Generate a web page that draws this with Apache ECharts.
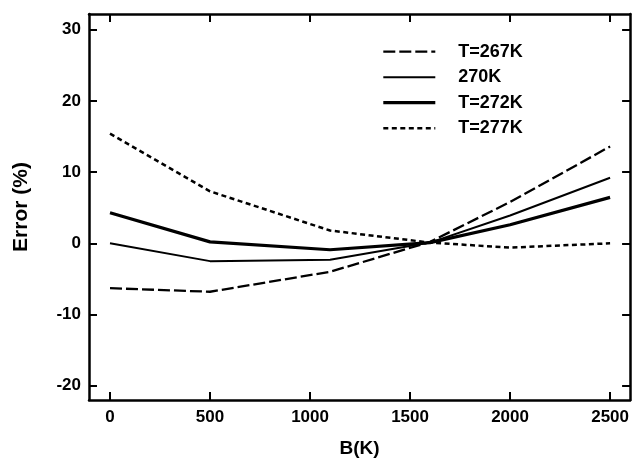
<!DOCTYPE html>
<html>
<head>
<meta charset="utf-8">
<script src="https://cdn.jsdelivr.net/npm/echarts@6/dist/echarts.min.js"></script>
<style>html,body{margin:0;padding:0;background:#fff}#c{width:632px;height:468px}</style>
</head>
<body>
<div id="c"></div>
<script>
var seriesNames = ['T=267K', '270K', 'T=272K', 'T=277K'];
var bValues = [0, 500, 1100, 1600, 2000, 2500];
var err267 = [-6.3, -6.8, -4.0, 0.2, 5.8, 13.6];
var err270 = [0.0, -2.5, -2.3, 0.1, 3.9, 9.2];
var err272 = [4.3, 0.2, -0.9, 0.1, 2.6, 6.45];
var err277 = [15.4, 7.3, 1.8, 0.1, -0.6, 0.0];
var xTicks = [0, 500, 1000, 1500, 2000, 2500];
var yTicks = [-20, -10, 0, 10, 20, 30];

function pairs(xs, ys) { return xs.map(function (x, i) { return [x, ys[i]]; }); }

var font = 'Liberation Sans, Arial, sans-serif';
var chart = echarts.init(document.getElementById('c'), null, {renderer: 'canvas'});
function plain(v) { return String(v); }

var lineWidths = [2.3, 2, 3.2, 2.5];
var lineDashes = [[12, 4], 'solid', 'solid', [5, 3.5]];

function xAx(pos, show) {
  return {
    type: 'value', position: pos, min: -105, max: 2600,
    axisLine: {show: true, onZero: false, lineStyle: {color: '#000', width: 2.5}},
    axisTick: {show: true, inside: true, length: 8, customValues: xTicks, lineStyle: {color: '#000', width: 2}},
    axisLabel: {show: show, customValues: xTicks, formatter: plain, margin: 9, color: '#000', fontFamily: font, fontWeight: 'bold', fontSize: 17},
    splitLine: {show: false}
  };
}
function yAx(pos, show) {
  return {
    type: 'value', position: pos, min: -22, max: 32.2,
    axisLine: {show: true, onZero: false, lineStyle: {color: '#000', width: 2.5}},
    axisTick: {show: true, inside: true, length: 8, customValues: yTicks, lineStyle: {color: '#000', width: 2}},
    axisLabel: {show: show, customValues: yTicks, formatter: plain, margin: 8, color: '#000', fontFamily: font, fontWeight: 'bold', fontSize: 17},
    splitLine: {show: false}
  };
}

var xb = xAx('bottom', true);
xb.name = 'B(K)'; xb.nameLocation = 'middle'; xb.nameGap = 39;
xb.nameTextStyle = {color: '#000', fontFamily: font, fontWeight: 'bold', fontSize: 19};
var yl = yAx('left', true);
yl.name = 'Error (%)'; yl.nameLocation = 'middle'; yl.nameGap = 57;
yl.nameTextStyle = {color: '#000', fontFamily: font, fontWeight: 'bold', fontSize: 21};

function line(i, data) {
  return {
    name: seriesNames[i], type: 'line', xAxisIndex: 0, yAxisIndex: 0,
    data: data, symbol: 'none', showSymbol: false, silent: true, animation: false,
    lineStyle: {color: '#000', width: lineWidths[i], type: lineDashes[i], cap: 'butt'},
    itemStyle: {color: '#000'}
  };
}

chart.setOption({
  animation: false,
  backgroundColor: '#fff',
  grid: {left: 89, right: 1, top: 14, bottom: 68},
  legend: {
    orient: 'vertical', left: 381.7, top: 42.7, padding: 0,
    itemWidth: 52, itemHeight: 14, itemGap: 7.5,
    data: seriesNames.map(function (n, i) {
      return {name: n, lineStyle: {color: '#000', width: lineWidths[i], type: lineDashes[i]}};
    }),
    itemStyle: {opacity: 0},
    textStyle: {color: '#000', fontFamily: font, fontWeight: 'bold', fontSize: 18, lineHeight: 18, padding: [0, 0, 0, 18]}
  },
  xAxis: [xb, xAx('top', false)],
  yAxis: [yl, yAx('right', false)],
  series: [
    line(0, pairs(bValues, err267)),
    line(1, pairs(bValues, err270)),
    line(2, pairs(bValues, err272)),
    line(3, pairs(bValues, err277))
  ]
});
</script>
</body>
</html>
